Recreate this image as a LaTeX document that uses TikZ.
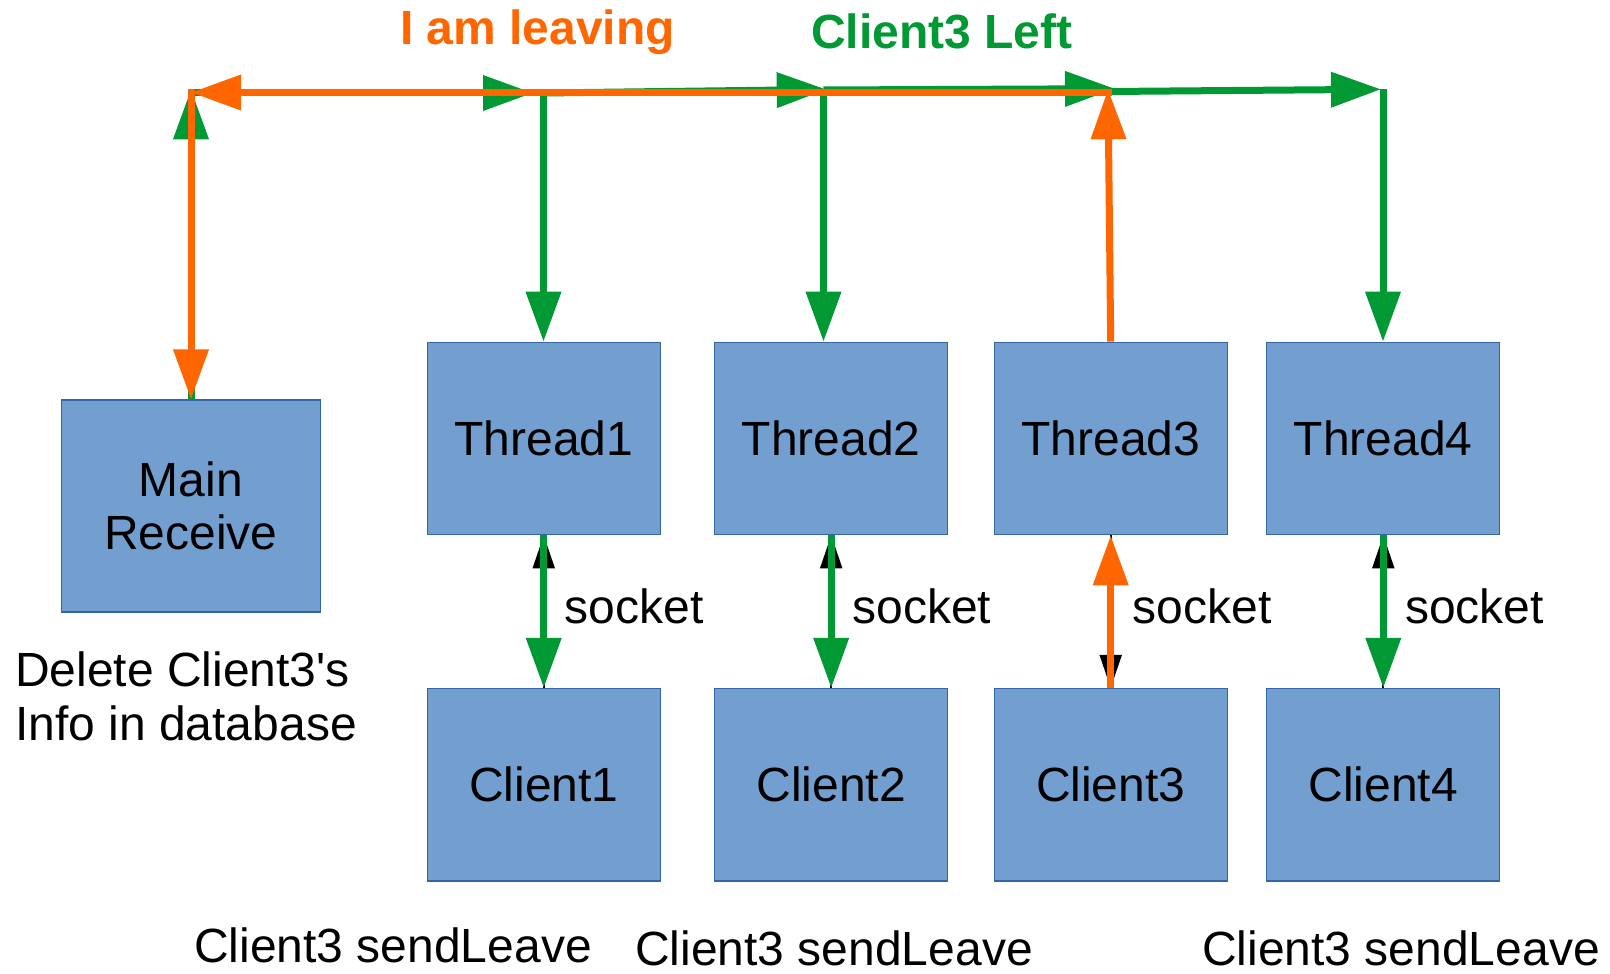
\documentclass[tikz,border=0pt]{standalone}
\usepackage{fontspec}
\setmainfont{Liberation Sans}[Ligatures=TeXOff]
\usetikzlibrary{arrows.meta}
\definecolor{boxfill}{HTML}{729FCF}
\definecolor{boxline}{HTML}{3465A4}
\definecolor{grn}{HTML}{009933}
\definecolor{org}{HTML}{FF6600}
\begin{document}
\begin{tikzpicture}[x=1pt,y=-1pt,
  box/.style={draw=boxline, line width=1.2pt, fill=boxfill, minimum width=233pt, minimum height=192.5pt, inner sep=0pt, font=\fontsize{48}{53.5}\selectfont, align=center},
  lbl/.style={inner sep=0pt, anchor=base west, font=\fontsize{48}{53.5}\selectfont},
  title/.style={inner sep=0pt, anchor=base west, font=\fontsize{48}{53.5}\selectfont\bfseries},
  big/.style={-{Triangle[length=50pt,width=34pt]}, line width=7pt},
  small/.style={-{Triangle[length=33pt,width=22pt]}, line width=2pt, black},
]
\useasboundingbox (0,0) rectangle (1610,974);

% boxes
\node[box, minimum width=259pt, minimum height=212pt] (main) at (191,506) {Main\\Receive};
\node[box] (t1) at (543.75,438.5) {Thread1};
\node[box] (t2) at (831.2,438.5) {Thread2};
\node[box] (t3) at (1110.7,438.5) {Thread3};
\node[box] (t4) at (1383.3,438.5) {Thread4};
\node[box] (c1) at (543.75,784.75) {Client1};
\node[box] (c2) at (831.2,784.75) {Client2};
\node[box] (c3) at (1110.7,784.75) {Client3};
\node[box] (c4) at (1383.3,784.75) {Client4};

% corner points of the top bus
\coordinate (m0) at (191,89.3);
\coordinate (mh) at (191,93);
\coordinate (h1) at (533,93);
\coordinate (j1) at (543.5,93);
\coordinate (h2) at (826.7,89.5);
\coordinate (j2) at (823.5,90);
\coordinate (h3) at (1115,88.7);
\coordinate (j3) at (1108,91.5);
\coordinate (h4) at (1381,89.3);
\coordinate (j4) at (1383,89.3);
\coordinate (o3) at (1108,89.3);
\coordinate (os) at (1111.5,92.5);
\coordinate (oe) at (191,92.5);
\coordinate (ov) at (191,89);

% green path
\draw[big,grn] (main.north) -- (m0);
\draw[big,grn] (mh) -- (h1);
\draw[big,grn] (j1) -- (j1 |- t1.north);
\draw[big,grn] (j1) -- (h2);
\draw[big,grn] (j2) -- (j2 |- t2.north);
\draw[big,grn] (j2) -- (h3);
\draw[big,grn] (j3) -- (h4);
\draw[big,grn] (j4) -- (j4 |- t4.north);

% socket links
\draw[small] (c1.north) -- (t1.south);
\draw[big,grn] (t1.south) -- (c1.north);
\draw[small] (c2.north) -- (t2.south);
\draw[big,grn] (t2.south) -- (c2.north);
\draw[small] (t3.south) -- (c3.north);
\draw[big,org] (c3.north) -- (t3.south);
\draw[small] (c4.north) -- (t4.south);
\draw[big,grn] (t4.south) -- (c4.north);

% orange path
\draw[big,org] (t3.north) -- (o3);
\draw[big,org] (os) -- (oe);
\draw[big,org] (ov) -- (main.north);

% labels
\node[title, text=org] (leave) at (400,45) {I am leaving};
\node[title, text=grn] (left) at (811,49) {Client3 Left};
\node[lbl] (s1) at (564.5,623) {socket};
\node[lbl] (s2) at (852.4,623) {socket};
\node[lbl] (s3) at (1132.5,623) {socket};
\node[lbl] (s4) at (1405,623) {socket};
\node[inner sep=0pt, anchor=north west, align=left, font=\fontsize{48}{53.5}\selectfont] (del) at (15,652) {Delete Client3's\\Info in database};
\node[lbl] (sl1) at (194,962) {Client3 sendLeave};
\node[lbl] (sl2) at (635,965) {Client3 sendLeave};
\node[lbl] (sl3) at (1202,965) {Client3 sendLeave};
\end{tikzpicture}
\end{document}
